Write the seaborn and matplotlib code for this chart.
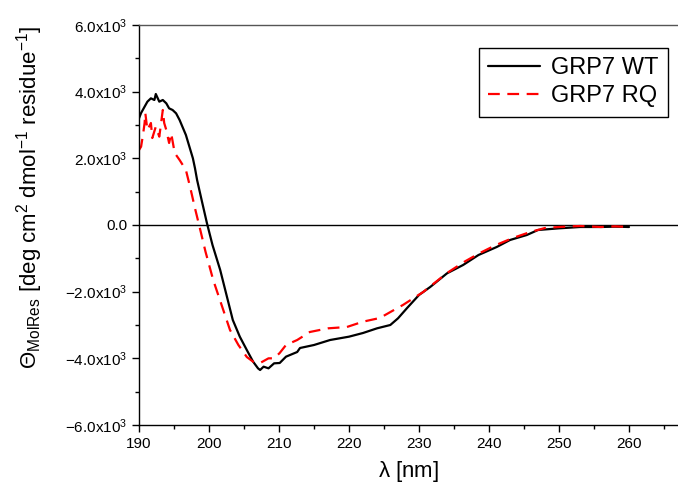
import numpy as np
import pandas as pd
import matplotlib
matplotlib.use('Agg')
import matplotlib.pyplot as plt
import seaborn as sns
from matplotlib.ticker import MultipleLocator, FuncFormatter

# GRP7 WT (black solid)
wt_nm = [190.0, 190.3, 190.8, 191.2, 191.7, 192.2, 192.4, 192.9, 193.4, 193.9,
         194.3, 194.8, 195.3, 195.8, 196.2, 196.7, 197.2, 197.7, 198.0, 198.3,
         199.0, 199.7, 200.5, 201.6, 202.5, 203.4, 204.4, 205.4, 206.3, 207.0,
         207.3, 207.8, 208.5, 209.3, 210.1, 211.0, 212.6, 213.0, 215.0, 217.3,
         220.0, 222.0, 224.0, 225.9, 227.0, 228.3, 230.0, 231.6, 234.0, 236.3,
         238.5, 241.1, 243.0, 245.4, 247.0, 250.0, 253.0, 256.0, 258.0, 260.0]
wt_theta = [3200, 3360, 3550, 3700, 3800, 3750, 3930, 3700, 3750, 3650,
            3500, 3450, 3350, 3150, 2950, 2700, 2350, 2000, 1700, 1350,
            700, 60, -600, -1350, -2100, -2850, -3350, -3750, -4100, -4300,
            -4350, -4250, -4300, -4150, -4140, -3950, -3810, -3690, -3600, -3450,
            -3350, -3240, -3100, -3000, -2800, -2490, -2100, -1860, -1450, -1200,
            -900, -660, -450, -300, -150, -100, -60, -60, -50, -60]

# GRP7 RQ (red dashed)
rq_nm = [190.0, 190.3, 190.6, 190.8, 190.9, 191.2, 191.7, 191.9, 192.4, 192.9,
         193.4, 193.6, 193.9, 194.3, 194.6, 195.1, 195.8, 196.7, 197.3, 198.0,
         198.7, 199.5, 200.6, 201.8, 203.0, 204.2, 205.4, 206.3, 207.3, 208.5,
         209.3, 210.1, 211.0, 212.6, 214.4, 217.0, 219.7, 222.0, 224.4, 226.0,
         227.7, 230.6, 234.0, 236.5, 238.7, 241.0, 243.4, 245.9, 248.0, 250.0,
         253.0, 256.0, 258.0, 260.0]
rq_theta = [2250, 2350, 2750, 3060, 3360, 2850, 3060, 2610, 2950, 2650,
            3450, 3060, 2850, 2460, 2750, 2160, 1950, 1650, 1140, 500,
            -100, -800, -1650, -2400, -3150, -3600, -3960, -4100, -4140, -4000,
            -4000, -3840, -3600, -3450, -3210, -3100, -3060, -2900, -2790, -2600,
            -2400, -2010, -1440, -1100, -840, -600, -390, -210, -90, -60,
            -30, -60, -40, -60]

sns.set_style('ticks')
plt.rcParams['font.family'] = ['Liberation Sans', 'DejaVu Sans']
plt.rcParams.update({'mathtext.fontset': 'custom',
                     'mathtext.rm': 'Liberation Sans',
                     'mathtext.it': 'Liberation Sans:italic',
                     'mathtext.bf': 'Liberation Sans:bold',
                     'text.color': 'black',
                     'axes.labelcolor': 'black',
                     'xtick.color': 'black',
                     'ytick.color': 'black'})

fig = plt.figure(figsize=(6.78, 4.93), dpi=100)
ax = fig.add_axes([139 / 678, 1 - 425 / 493, 539 / 678, 400 / 493])

sns.lineplot(x=wt_nm, y=wt_theta, color='black', lw=1.6, label='GRP7 WT', ax=ax)
sns.lineplot(x=rq_nm, y=rq_theta, color='#ff0000', lw=1.6, label='GRP7 RQ', ax=ax)
ax.lines[1].set_dashes((5.3, 3.4))
ax.axhline(0, color='black', lw=1.0, zorder=0)

ax.set_xlim(190, 190 + 539 / 7)
ax.set_ylim(-6000, 6000)
ax.xaxis.set_major_locator(MultipleLocator(10))
ax.xaxis.set_minor_locator(MultipleLocator(5))
ax.yaxis.set_major_locator(MultipleLocator(2000))
ax.yaxis.set_minor_locator(MultipleLocator(1000))


def yfmt(v, pos):
    if abs(v) < 1e-9:
        return '0.0'
    return r'$\mathregular{%.1fx10^3}$' % (v / 1000)


ax.yaxis.set_major_formatter(FuncFormatter(yfmt))
ax.tick_params(which='major', direction='out', length=5, width=1, labelsize=11,
               color='black', labelcolor='black')
ax.tick_params(which='minor', direction='out', length=3, width=1, color='black')

ax.spines['right'].set_visible(False)
for s in ['left', 'top', 'bottom']:
    ax.spines[s].set_color('black')
    ax.spines[s].set_linewidth(1.0)
ax.spines['top'].set_color('#555555')

ax.set_xlabel(r'$\mathregular{\lambda}$ [nm]', fontsize=16, labelpad=6, color='black')
ax.set_ylabel(r'$\mathregular{\Theta_{MolRes}}$ [deg cm$\mathregular{^2}$ dmol$\mathregular{^{-1}}$ residue$\mathregular{^{-1}}$]',
              fontsize=16, color='black')
ax.yaxis.set_label_coords(-0.175, 0.57)

leg = ax.legend(loc='upper right', bbox_to_anchor=(0.981, 0.9425), borderaxespad=0,
                fontsize=17, frameon=True, fancybox=False, edgecolor='black',
                framealpha=1, handlelength=2.2, handletextpad=0.45,
                borderpad=0.4, labelspacing=0.25)
leg.get_frame().set_linewidth(1.0)
for t in leg.get_texts():
    t.set_color('black')

fig.savefig('out.png', dpi=100)
